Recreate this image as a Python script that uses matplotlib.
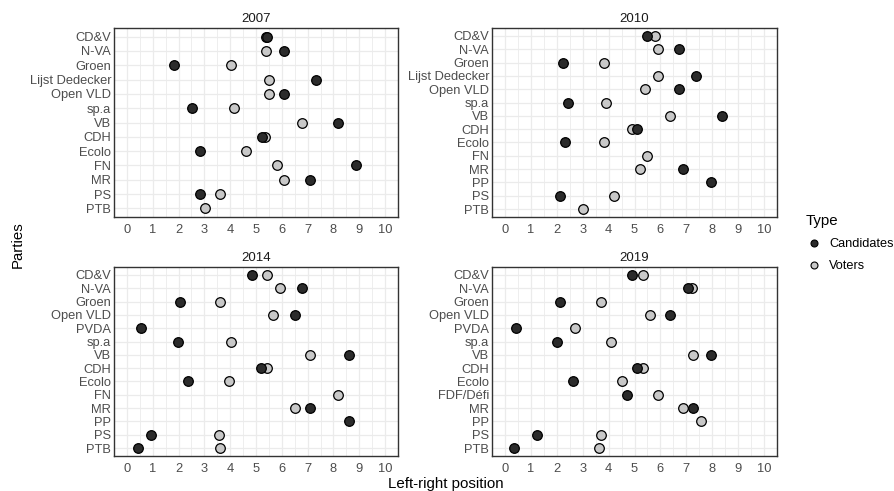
import matplotlib
matplotlib.use("Agg")
import matplotlib.pyplot as plt
from matplotlib.lines import Line2D

plt.rcParams['font.family'] = ['Liberation Sans', 'DejaVu Sans']

years = ["2007", "2010", "2014", "2019"]

parties_2007 = ["CD&V", "N-VA", "Groen", "Lijst Dedecker", "Open VLD", "sp.a", "VB",
                "CDH", "Ecolo", "FN", "MR", "PS", "PTB"]
cand_2007 = [5.41, 6.09, 1.82, 7.31, 6.09, 2.53, 8.19, 5.22, 2.85, 8.88, 7.10, 2.85, None]
vot_2007 = [5.40, 5.38, 4.04, 5.51, 5.51, 4.13, 6.79, 5.35, 4.62, 5.82, 6.09, 3.62, 3.04]

parties_2010 = ["CD&V", "N-VA", "Groen", "Lijst Dedecker", "Open VLD", "sp.a", "VB",
                "CDH", "Ecolo", "FN", "MR", "PP", "PS", "PTB"]
cand_2010 = [5.47, 6.71, 2.23, 7.38, 6.71, 2.44, 8.38, 5.10, 2.31, None, 6.88, 7.96, 2.13, None]
vot_2010 = [5.81, 5.91, 3.83, 5.91, 5.41, 3.91, 6.38, 4.90, 3.83, 5.49, 5.21, None, 4.22, 3.00]

parties_2014 = ["CD&V", "N-VA", "Groen", "Open VLD", "PVDA", "sp.a", "VB",
                "CDH", "Ecolo", "FN", "MR", "PP", "PS", "PTB"]
cand_2014 = [4.83, 6.79, 2.04, 6.51, 0.56, 1.96, 8.62, 5.21, 2.36, None, 7.10, 8.62, 0.95, 0.44]
vot_2014 = [5.41, 5.92, 3.62, 5.64, None, 4.04, 7.10, 5.41, 3.94, 8.19, 6.51, None, 3.55, 3.62]

parties_2019 = ["CD&V", "N-VA", "Groen", "Open VLD", "PVDA", "sp.a", "VB",
                "CDH", "Ecolo", "FDF/Défi", "MR", "PP", "PS", "PTB"]
cand_2019 = [4.91, 7.08, 2.13, 6.38, 0.41, 2.00, 7.96, 5.09, 2.63, 4.72, 7.26, None, 1.22, 0.33]
vot_2019 = [5.31, 7.21, 3.71, 5.60, 2.69, 4.09, 7.26, 5.31, 4.51, 5.91, 6.87, 7.58, 3.71, 3.62]

panels = [
    (parties_2007, cand_2007, vot_2007),
    (parties_2010, cand_2010, vot_2010),
    (parties_2014, cand_2014, vot_2014),
    (parties_2019, cand_2019, vot_2019),
]

W, H = 894, 491
# panel boxes in pixels: left, right, top, bottom
boxes = [(114, 398, 28, 217), (492, 777, 28, 217),
         (114, 398, 267, 456), (492, 777, 267, 456)]

CAND_COL = "#2b2b2b"
VOT_COL = "#c8c8c8"
GRID_COL = "#ebebeb"
TICK_COL = "#4d4d4d"

fig = plt.figure(figsize=(W / 100, H / 100), dpi=100)

for year, (parties, cand, vot), (l, r, t, b) in zip(years, panels, boxes):
    ax = fig.add_axes([l / W, 1 - b / H, (r - l) / W, (b - t) / H])
    n = len(parties)
    ypos = [n - 1 - i for i in range(n)]

    vx = [v for v in vot if v is not None]
    vy = [y for v, y in zip(vot, ypos) if v is not None]
    cx = [c for c in cand if c is not None]
    cy = [y for c, y in zip(cand, ypos) if c is not None]
    ax.scatter(vx, vy, s=48, c=VOT_COL, edgecolors="black", linewidths=0.9, zorder=3)
    ax.scatter(cx, cy, s=48, c=CAND_COL, edgecolors="black", linewidths=0.9, zorder=4)

    ax.set_xlim(-0.46, 10.46)
    ax.set_ylim(-0.6, n - 0.4)
    ax.set_xticks(range(0, 11))
    ax.set_xticks([i + 0.5 for i in range(-1, 11)], minor=True)
    ax.set_yticks(ypos)
    ax.set_yticklabels(parties)
    ax.grid(True, which="major", color=GRID_COL, linewidth=0.9, zorder=0)
    ax.grid(True, which="minor", axis="x", color=GRID_COL, linewidth=0.6, zorder=0)
    ax.set_axisbelow(True)
    ax.tick_params(which="both", length=0, labelsize=9.3, labelcolor=TICK_COL)
    ax.tick_params(axis="x", pad=5)
    ax.tick_params(axis="y", pad=2)
    for sp in ax.spines.values():
        sp.set_color("#333333")
        sp.set_linewidth(1.0)
    ax.set_title(year, fontsize=9.5, color="#1a1a1a", pad=4)

fig.text(446 / W, 1 - 484 / H, "Left-right position", ha="center", va="center",
         fontsize=10.8, color="black")
fig.text(18 / W, 1 - 245 / H, "Parties", ha="center", va="center", rotation=90,
         fontsize=10.8, color="black")

handles = [
    Line2D([], [], marker="o", linestyle="", markersize=5, markerfacecolor=CAND_COL,
           markeredgecolor="black", markeredgewidth=0.8),
    Line2D([], [], marker="o", linestyle="", markersize=5, markerfacecolor=VOT_COL,
           markeredgecolor="black", markeredgewidth=0.8),
]
leg = fig.legend(handles, ["Candidates", "Voters"], title="Type", loc="upper left",
                 bbox_to_anchor=(797 / W, 1 - 205 / H), frameon=False, fontsize=9.2,
                 title_fontsize=10.8, handletextpad=0.6, labelspacing=0.8,
                 handlelength=1.2, borderpad=0.2)
leg._legend_box.align = "left"

fig.savefig("out.png", dpi=100)
